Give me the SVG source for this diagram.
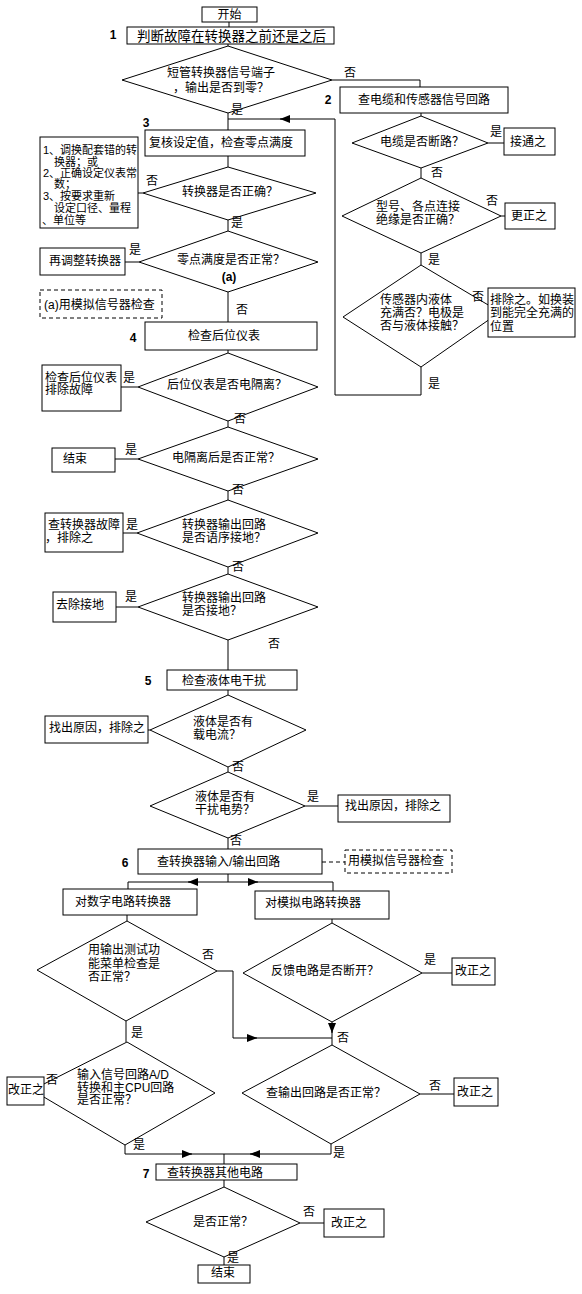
<svg xmlns="http://www.w3.org/2000/svg" width="582" height="1294" viewBox="0 0 582 1294">
<style>
text{font-family:"Liberation Sans","Noto Sans CJK SC",sans-serif;font-size:12px;fill:#000;dominant-baseline:central}
.m{text-anchor:middle}
.s{font-size:11px}
.n{font-weight:bold;font-size:12px;text-anchor:middle}
.b{fill:#fff;stroke:#000;stroke-width:1}
.dash{fill:#fff;stroke:#000;stroke-width:1;stroke-dasharray:4,3}
.d{fill:#fff;stroke:#000;stroke-width:1}
.c path{fill:none;stroke:#000;stroke-width:1}
</style>
<defs>
<marker id="a" markerUnits="userSpaceOnUse" markerWidth="10" markerHeight="8" refX="10" refY="4" orient="auto">
<path d="M0,0 L10,4 L0,8 z" fill="#000"/>
</marker>
</defs>
<rect width="582" height="1294" fill="#fff"/>

<g id="connectors" class="c">
<path d="M229,22 V27"/>
<path d="M228,44 V46"/>
<path d="M332,80 H420 V87"/>
<path d="M228,113 V130"/>
<path d="M421,113 V116"/>
<path d="M421,168 V178"/>
<path d="M488,143 H504"/>
<path d="M501,216 H505"/>
<path d="M421,253 V265"/>
<path d="M421,367 V395 H335 V119 H280" marker-end="url(#a)"/>
<path d="M282,119 H228"/>
<path d="M228,156 V167"/>
<path d="M143,193 H138"/>
<path d="M228,220 V231"/>
<path d="M139,262 H125"/>
<path d="M228,292 V322"/>
<path d="M228,350 V353"/>
<path d="M138,387 H121"/>
<path d="M228,421 V427"/>
<path d="M138,459 H115"/>
<path d="M228,491 V500"/>
<path d="M137,533 H123"/>
<path d="M228,567 V574"/>
<path d="M138,607 H116"/>
<path d="M228,640 V670"/>
<path d="M228,690 V695"/>
<path d="M150,730 H148"/>
<path d="M228,767 V772"/>
<path d="M305,806 H338"/>
<path d="M228,838 V849"/>
<path d="M322,862 H345" style="stroke-dasharray:4,3"/>
<path d="M228,874 V882"/>
<path d="M228,882 H188" marker-end="url(#a)"/>
<path d="M190,882 H128 V889"/>
<path d="M228,882 H258" marker-end="url(#a)"/>
<path d="M256,882 H333 V891"/>
<path d="M127,915 V921"/>
<path d="M332,919 V923"/>
<path d="M217,971 H233 V1038 H257" marker-end="url(#a)"/>
<path d="M255,1038 H332"/>
<path d="M332,1022 V1033" marker-end="url(#a)"/>
<path d="M332,1031 V1045"/>
<path d="M422,973 H452"/>
<path d="M420,1094 H454"/>
<path d="M126,1021 V1042"/>
<path d="M125,1145 V1154 H192" marker-end="url(#a)"/>
<path d="M190,1154 H224"/>
<path d="M331,1144 V1154 H250" marker-end="url(#a)"/>
<path d="M252,1154 H224 V1164"/>
<path d="M224,1180 V1187"/>
<path d="M300,1223 H324"/>
<path d="M224,1257 V1265"/>
</g>

<g id="start"><rect class="b" x="202" y="7" width="55" height="15"/><text class="m" x="229.5" y="15">开始</text></g>
<g id="step1"><text class="n" x="113" y="35">1</text><rect class="b" x="127" y="27" width="207" height="17"/><text x="137" y="36" style="font-size:13.5px">判断故障在转换器之前还是之后</text></g>
<g id="q1"><polygon class="d" points="228,46 332,80 228,113 122,80"/><text x="167" y="73">短管转换器信号端子</text><text x="173" y="88">，输出是否到零？</text></g>
<g id="step2"><text class="n" x="328" y="100">2</text><rect class="b" x="340" y="87" width="168" height="26"/><text x="358" y="100">查电缆和传感器信号回路</text></g>
<g id="qs1"><polygon class="d" points="421,116 488,143 421,168 352,143"/><text x="380" y="142">电缆是否断路？</text></g>
<g id="connect"><rect class="b" x="504" y="128" width="51" height="27"/><text x="510" y="142">接通之</text></g>
<g id="qs2"><polygon class="d" points="421,178 501,216 421,253 342,216"/><text x="376" y="207">型号、各点连接</text><text x="376" y="220">绝缘是否正确？</text></g>
<g id="fix1"><rect class="b" x="505" y="203" width="50" height="26"/><text x="511" y="216">更正之</text></g>
<g id="qs3"><polygon class="d" points="421,265 500,312 421,367 343,317"/><text x="380" y="300">传感器内液体</text><text x="380" y="313">充满否？电极是</text><text x="380" y="326">否与液体接触？</text></g>
<g id="fix2"><rect class="b" x="488" y="288" width="87" height="49"/><text x="490" y="300">排除之。如换装</text><text x="490" y="313">到能完全充满的</text><text x="490" y="327">位置</text></g>
<g id="step3"><text class="n" x="146" y="123">3</text><rect class="b" x="145" y="130" width="160" height="26"/><text x="149" y="143">复核设定值，检查零点满度</text></g>
<g id="note1"><rect class="b" x="40" y="137" width="98" height="91"/>
<text class="s" x="43" y="150">1、调换配套错的转</text><text class="s" x="54" y="162">换器；或</text><text class="s" x="43" y="173">2、正确设定仪表常</text><text class="s" x="54" y="184">数；</text><text class="s" x="43" y="196">3、按要求重新</text><text class="s" x="54" y="208">设定口径、量程</text><text class="s" x="42" y="220">、单位等</text></g>
<g id="q2"><polygon class="d" points="228,167 316,193 228,220 143,193"/><text x="182" y="192">转换器是否正确？</text></g>
<g id="q3"><polygon class="d" points="228,231 318,262 228,292 139,262"/><text x="177" y="260">零点满度是否正常？</text><text class="m" x="229" y="277" style="font-weight:bold">(a)</text></g>
<g id="readjust"><rect class="b" x="40" y="248" width="85" height="27"/><text x="49" y="261">再调整转换器</text></g>
<g id="noteA"><rect class="dash" x="40" y="290" width="122" height="28"/><text x="44" y="305">(a)用模拟信号器检查</text></g>
<g id="step4"><text class="n" x="133" y="338">4</text><rect class="b" x="145" y="322" width="172" height="28"/><text x="188" y="336">检查后位仪表</text></g>
<g id="q4"><polygon class="d" points="228,353 318,387 228,421 138,387"/><text x="167" y="385">后位仪表是否电隔离？</text></g>
<g id="checkback"><rect class="b" x="42" y="365" width="79" height="46"/><text x="45" y="378">检查后位仪表</text><text x="45" y="390">排除故障</text></g>
<g id="q5"><polygon class="d" points="228,427 318,459 228,491 138,459"/><text x="172" y="458">电隔离后是否正常？</text></g>
<g id="end1"><rect class="b" x="52" y="448" width="63" height="24"/><text x="63" y="459">结束</text></g>
<g id="q6"><polygon class="d" points="228,500 318,533 228,567 137,533"/><text x="182" y="525">转换器输出回路</text><text x="182" y="538">是否语序接地？</text></g>
<g id="convfault"><rect class="b" x="45" y="513" width="78" height="39"/><text x="48" y="525">查转换器故障</text><text x="45" y="538">，排除之</text></g>
<g id="q7"><polygon class="d" points="228,574 318,607 228,640 138,607"/><text x="182" y="598">转换器输出回路</text><text x="182" y="611">是否接地？</text></g>
<g id="unground"><rect class="b" x="53" y="592" width="63" height="30"/><text x="56" y="605">去除接地</text></g>
<g id="step5"><text class="n" x="148" y="681">5</text><rect class="b" x="167" y="670" width="130" height="20"/><text x="182" y="681">检查液体电干扰</text></g>
<g id="q8"><polygon class="d" points="228,695 306,730 228,767 150,730"/><text x="193" y="722">液体是否有</text><text x="193" y="735">载电流？</text></g>
<g id="find1"><rect class="b" x="45" y="716" width="103" height="27"/><text x="49" y="728">找出原因，排除之</text></g>
<g id="q9"><polygon class="d" points="228,772 305,806 228,838 150,806"/><text x="195" y="797">液体是否有</text><text x="195" y="810">干扰电势？</text></g>
<g id="find2"><rect class="b" x="338" y="795" width="112" height="27"/><text x="345" y="806">找出原因，排除之</text></g>
<g id="step6"><text class="n" x="125" y="863">6</text><rect class="b" x="138" y="849" width="184" height="25"/><text x="157" y="862">查转换器输入/输出回路</text></g>
<g id="noteB"><rect class="dash" x="345" y="850" width="107" height="23"/><text x="348" y="861">用模拟信号器检查</text></g>
<g id="digital"><rect class="b" x="63" y="889" width="134" height="26"/><text x="75" y="902">对数字电路转换器</text></g>
<g id="analog"><rect class="b" x="255" y="891" width="134" height="28"/><text x="265" y="903">对模拟电路转换器</text></g>
<g id="q10"><polygon class="d" points="127,921 217,971 126,1021 37,970"/><text x="88" y="950">用输出测试功</text><text x="88" y="964">能菜单检查是</text><text x="88" y="977">否正常？</text></g>
<g id="q11"><polygon class="d" points="332,923 422,973 332,1022 243,973"/><text x="271" y="971">反馈电路是否断开？</text></g>
<g id="fix3"><rect class="b" x="452" y="958" width="43" height="27"/><text x="455" y="971">改正之</text></g>
<g id="q12"><polygon class="d" points="332,1045 420,1094 331,1144 242,1093"/><text x="266" y="1093">查输出回路是否正常？</text></g>
<g id="fix4"><rect class="b" x="454" y="1078" width="44" height="28"/><text x="457" y="1092">改正之</text></g>
<g id="q13"><polygon class="d" points="127,1042 215,1093 125,1145 32,1090"/><text x="77" y="1075">输入信号回路A/D</text><text x="77" y="1088">转换和主CPU回路</text><text x="77" y="1100">是否正常？</text></g>
<g id="fix5"><rect class="b" x="7" y="1077" width="37" height="28"/><text x="8" y="1090">改正之</text></g>
<g id="step7"><text class="n" x="146" y="1174">7</text><rect class="b" x="156" y="1164" width="141" height="16"/><text x="167" y="1173">查转换器其他电路</text></g>
<g id="q14"><polygon class="d" points="224,1187 300,1223 224,1257 146,1222"/><text x="193" y="1222">是否正常？</text></g>
<g id="fix6"><rect class="b" x="324" y="1209" width="60" height="28"/><text x="331" y="1223">改正之</text></g>
<g id="end2"><rect class="b" x="198" y="1265" width="52" height="18"/><text x="211" y="1273">结束</text></g>

<g id="labels">
<text class="m" x="350" y="73">否</text>
<text class="m" x="237" y="110">是</text>
<text class="m" x="496" y="132">是</text>
<text class="m" x="437" y="173">否</text>
<text class="m" x="492" y="201">否</text>
<text class="m" x="434" y="260">是</text>
<text class="m" x="478" y="297">否</text>
<text class="m" x="434" y="384">是</text>
<text class="m" x="152" y="181">否</text>
<text class="m" x="237" y="223">是</text>
<text class="m" x="135" y="250">是</text>
<text class="m" x="242" y="310">否</text>
<text class="m" x="129" y="378">是</text>
<text class="m" x="240" y="419">否</text>
<text class="m" x="131" y="450">是</text>
<text class="m" x="238" y="490">否</text>
<text class="m" x="132" y="525">是</text>
<text class="m" x="238" y="567">否</text>
<text class="m" x="131" y="597">是</text>
<text class="m" x="274" y="644">否</text>
<text class="m" x="238" y="767">否</text>
<text class="m" x="313" y="797">是</text>
<text class="m" x="236" y="841">否</text>
<text class="m" x="208" y="955">否</text>
<text class="m" x="430" y="960">是</text>
<text class="m" x="137" y="1033">是</text>
<text class="m" x="343" y="1038">否</text>
<text class="m" x="52" y="1080">否</text>
<text class="m" x="435" y="1086">否</text>
<text class="m" x="139" y="1145">是</text>
<text class="m" x="339" y="1153">是</text>
<text class="m" x="309" y="1212">否</text>
<text class="m" x="233" y="1258">是</text>
</g>
</svg>
